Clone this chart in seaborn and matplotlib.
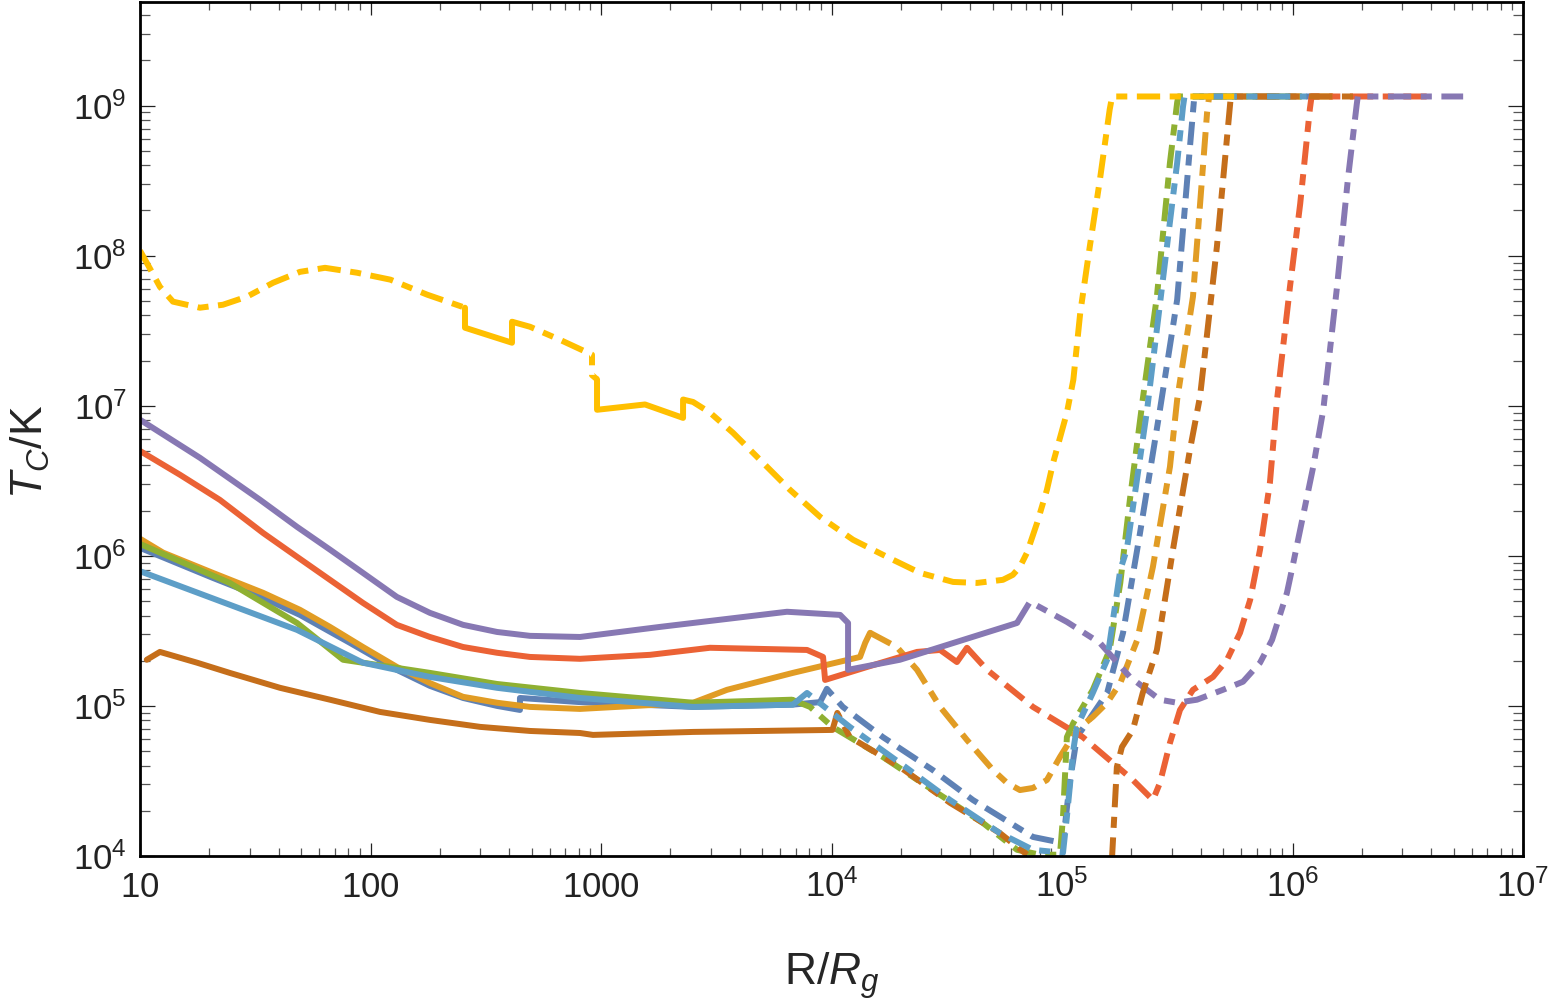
import numpy as np
import pandas as pd
import matplotlib
matplotlib.use("Agg")
import matplotlib.pyplot as plt
from matplotlib.ticker import LogLocator, NullFormatter
import seaborn as sns

# model colours (Mathematica default palette)
models = ["blue", "orange", "green", "red", "purple", "brown", "lightblue", "yellow"]
colors = ["#5E81B5", "#E19C24", "#8FB032", "#EB6235", "#8778B3", "#C56E1A", "#5D9EC7", "#FFBF00"]

# ---- data: R/Rg and T_C [K] ----
blue_solid_r = [10, 20.7, 34.2, 49.4, 81.5, 130, 181, 252, 354, 445, 445, 811, 2510, 6800, 8920]
blue_solid_t = [1.13e6, 7.13e5, 5.25e5, 4.04e5, 2.63e5, 1.74e5, 1.36e5, 1.13e5, 1.0e5, 9.4e4,
                1.13e5, 1.06e5, 9.85e4, 1.02e5, 1.06e5]
blue_dd_r = [8920, 9550, 1.12e4, 1.67e4, 2.75e4, 4.11e4, 7.48e4, 1.01e5, 1.08e5, 1.16e5, 1.28e5,
             1.57e5, 1.84e5, 2.18e5, 2.66e5, 3.16e5, 3.59e5, 3.75e5, 1.3e6]
blue_dd_t = [1.06e5, 1.3e5, 9.85e4, 6.2e4, 3.74e4, 2.36e4, 1.34e4, 1.22e4, 3.07e4, 6.2e4, 7.7e4,
             1.22e5, 3.07e5, 1.42e6, 9.4e6, 5.1e7, 5.3e8, 1.15e9, 1.15e9]

orange_solid_r = [10, 12.6, 20.7, 34.2, 49.4, 66.7, 92.7, 130, 181, 252, 354, 492, 811, 2510, 3520,
                  6800, 1.33e4, 1.4e4, 1.47e4]
orange_solid_t = [1.3e6, 1.05e6, 7.7e5, 5.67e5, 4.37e5, 3.36e5, 2.47e5, 1.82e5, 1.42e5, 1.15e5,
                  1.05e5, 9.85e4, 9.55e4, 1.05e5, 1.28e5, 1.66e5, 2.12e5, 2.63e5, 3.07e5]
orange_dd_r = [1.47e4, 1.92e4, 2.35e4, 2.96e4, 3.87e4, 5.02e4, 5.77e4, 6.57e4, 7.48e4, 8.6e4, 9.8e4,
               1.16e5, 1.36e5, 1.57e5, 1.79e5, 2.12e5, 2.48e5, 2.94e5, 3.16e5, 3.7e5, 4.26e5,
               4.35e5, 1.5e6]
orange_dd_t = [3.07e5, 2.47e5, 1.74e5, 9.85e4, 5.93e4, 3.74e4, 3.07e4, 2.75e4, 2.84e4, 3.21e4,
               4.57e4, 6.92e4, 8.45e4, 1.05e5, 1.42e5, 2.75e5, 8.45e5, 3.92e6, 1.1e7, 5.33e7,
               8.98e8, 1.15e9, 1.15e9]

green_solid_r = [10, 24.5, 48, 76, 92.7, 181, 354, 811, 2510, 6740]
green_solid_t = [1.2e6, 6.6e5, 3.57e5, 2.03e5, 1.94e5, 1.66e5, 1.4e5, 1.22e5, 1.05e5, 1.1e5]
green_dd_r = [6740, 8070, 1.01e4, 1.67e4, 2.75e4, 4.54e4, 6.38e4, 8.03e4, 9.8e4, 1.01e5, 1.05e5,
              1.12e5, 1.36e5, 1.61e5, 1.79e5, 1.97e5, 2.24e5, 2.58e5, 2.94e5, 3.16e5, 3.2e5, 1.1e6]
green_dd_t = [1.1e5, 9.85e4, 7.25e4, 4.57e4, 2.75e4, 1.66e4, 1.1e4, 1.02e4, 1.02e4, 1.82e4, 6.2e4,
              7.7e4, 1.28e5, 2.36e5, 6.6e5, 2.36e6, 1.1e7, 5.33e7, 4.17e8, 1.05e9, 1.15e9, 1.15e9]

red_solid_r = [10, 14.9, 22.2, 34.2, 48, 66.7, 92.7, 130, 181, 252, 354, 492, 811, 1633, 2970,
               7830, 9190, 9380, 1.43e4, 2.35e4, 2.96e4, 3.5e4, 3.87e4]
red_solid_t = [5.0e6, 3.47e6, 2.36e6, 1.42e6, 9.85e5, 6.92e5, 4.86e5, 3.47e5, 2.88e5, 2.47e5,
               2.26e5, 2.12e5, 2.06e5, 2.19e5, 2.44e5, 2.36e5, 2.12e5, 1.49e5, 1.82e5, 2.29e5,
               2.36e5, 1.96e5, 2.44e5]
red_dd_r = [3.87e4, 4.73e4, 7.48e4, 1.23e5, 2.03e5, 2.48e5, 2.66e5, 2.94e5, 3.25e5, 3.7e5, 4.52e5,
            5.2e5, 5.92e5, 6.55e5, 7.23e5, 7.98e5, 8.57e5, 9.75e5, 1.08e6, 1.19e6, 1.21e6, 4.1e6]
red_dd_t = [2.44e5, 1.74e5, 9.85e4, 6.2e4, 3.21e4, 2.36e4, 3.07e4, 5.67e4, 9.4e4, 1.28e5, 1.56e5,
            2.03e5, 3.07e5, 5.09e5, 1.1e6, 3.07e6, 1.1e7, 6.2e7, 2.22e8, 9.55e8, 1.15e9, 1.15e9]

purple_solid_r = [10, 18.2, 33.2, 48, 66.7, 92.7, 130, 181, 252, 354, 492, 811, 1800, 6410, 1.09e4,
                  1.18e4, 1.18e4, 1.98e4, 6.38e4]
purple_solid_t = [8.07e6, 4.5e6, 2.36e6, 1.56e6, 1.1e6, 7.7e5, 5.33e5, 4.17e5, 3.47e5, 3.11e5,
                  2.93e5, 2.88e5, 3.36e5, 4.24e5, 4.04e5, 3.57e5, 1.74e5, 2.03e5, 3.57e5]
purple_dd_r = [6.38e4, 7.26e4, 1.05e5, 1.46e5, 1.97e5, 2.66e5, 3.16e5, 3.85e5, 4.99e5, 6.1e5,
               7.23e5, 8.15e5, 9.46e5, 1.0e6, 1.23e6, 1.36e6, 1.56e6, 1.74e6, 1.9e6, 1.92e6, 5.5e6]
purple_dd_t = [3.57e5, 4.94e5, 3.63e5, 2.63e5, 1.56e5, 1.1e5, 1.05e5, 1.1e5, 1.28e5, 1.45e5,
               1.94e5, 2.75e5, 5.67e5, 8.45e5, 3.92e6, 9.4e6, 6.2e7, 3.26e8, 1.02e9, 1.15e9, 1.15e9]

brown_solid_r = [10.7, 12.2, 17.7, 24.5, 40.5, 66.7, 110, 181, 299, 492, 811, 923, 2510, 1.01e4]
brown_solid_t = [2.03e5, 2.29e5, 1.94e5, 1.66e5, 1.32e5, 1.1e5, 9.12e4, 8.07e4, 7.25e4, 6.81e4,
                 6.6e4, 6.41e4, 6.71e4, 6.92e4]
brown_dd_r = [1.01e4, 1.06e4, 1.2e4, 1.98e4, 3.27e4, 5.38e4, 7.26e4, 1.0e5, 1.6e5, 1.65e5, 1.73e5,
              1.82e5, 2.03e5, 2.24e5, 2.58e5, 3.03e5, 3.59e5, 3.97e5, 4.7e5, 5.35e5, 5.4e5, 1.85e6]
brown_dd_t = [6.92e4, 8.98e4, 6.2e4, 3.92e4, 2.26e4, 1.42e4, 9.85e3, 6.5e3, 6.5e3, 1.0e4, 3.92e4,
              5.33e4, 6.92e4, 1.22e5, 2.36e5, 1.1e6, 5.09e6, 1.15e7, 1.15e8, 9.85e8, 1.15e9, 1.15e9]

lblue_solid_r = [10, 48, 92.7, 181, 354, 811, 2510, 6800]
lblue_solid_t = [7.9e5, 3.21e5, 1.94e5, 1.56e5, 1.32e5, 1.13e5, 9.85e4, 1.02e5]
lblue_dd_r = [6800, 7830, 1.2e4, 1.98e4, 3.27e4, 5.38e4, 7.48e4, 1.01e5, 1.05e5, 1.12e5, 1.16e5,
              1.36e5, 1.57e5, 1.79e5, 1.91e5, 2.34e5, 2.74e5, 3.16e5, 3.35e5, 3.4e5, 1.15e6]
lblue_dd_t = [1.02e5, 1.22e5, 7.25e4, 4.17e4, 2.36e4, 1.42e4, 1.1e4, 1.05e4, 1.82e4, 5.09e4, 7.25e4,
              1.22e5, 2.03e5, 8.07e5, 1.1e6, 9.4e6, 6.92e7, 4.17e8, 9.85e8, 1.15e9, 1.15e9]

yellow_dd1_r = [10, 11.0, 12.2, 13.9, 18.2, 22.9, 29.1, 37.8, 49.4, 63.5, 87.3, 122, 176, 257]
yellow_dd1_t = [1.08e8, 8.3e7, 6.2e7, 4.94e7, 4.5e7, 4.71e7, 5.33e7, 6.6e7, 7.8e7, 8.3e7, 7.7e7,
                6.92e7, 5.5e7, 4.5e7]
yellow_solid1_r = [257, 257, 411, 411]
yellow_solid1_t = [4.5e7, 3.31e7, 2.63e7, 3.63e7]
yellow_dd2_r = [411, 492, 664, 914, 914, 961]
yellow_dd2_t = [3.63e7, 3.36e7, 2.75e7, 2.19e7, 1.6e7, 1.5e7]
yellow_solid2_r = [961, 961, 1552, 2270, 2270]
yellow_solid2_t = [1.5e7, 9.4e6, 1.02e7, 8.3e6, 1.1e7]
yellow_dd3_r = [2270, 2508, 2970, 3740, 5250, 6610, 8920, 1.24e4, 1.74e4, 2.42e4, 3.37e4, 4.28e4,
                5.54e4, 6.12e4, 6.57e4, 7.05e4, 7.8e4, 8.6e4, 9.15e4, 1.05e5, 1.12e5, 1.2e5, 1.32e5,
                1.46e5, 1.61e5, 1.65e5, 6.0e5]
yellow_dd3_t = [1.1e7, 1.06e7, 9.0e6, 6.6e6, 3.92e6, 2.75e6, 1.82e6, 1.28e6, 9.85e5, 7.7e5, 6.7e5,
                6.6e5, 6.92e5, 7.47e5, 8.45e5, 1.05e6, 1.66e6, 2.75e6, 4.17e6, 8.98e6, 1.49e7,
                4.17e7, 1.15e8, 3.2e8, 9.4e8, 1.15e9, 1.15e9]

x_ticks = [10, 100, 1000, 1e4, 1e5, 1e6, 1e7]
x_ticklabels = ["10", "100", "1000", "10^{4}", "10^{5}", "10^{6}", "10^{7}"]
y_ticks = [1e4, 1e5, 1e6, 1e7, 1e8, 1e9]
y_ticklabels = ["10^{4}", "10^{5}", "10^{6}", "10^{7}", "10^{8}", "10^{9}"]

# (model, style, segment, R, T)
segments = [
    ("blue", "solid", "s1", blue_solid_r, blue_solid_t),
    ("blue", "dd", "d1", blue_dd_r, blue_dd_t),
    ("orange", "solid", "s1", orange_solid_r, orange_solid_t),
    ("orange", "dd", "d1", orange_dd_r, orange_dd_t),
    ("green", "solid", "s1", green_solid_r, green_solid_t),
    ("green", "dd", "d1", green_dd_r, green_dd_t),
    ("red", "solid", "s1", red_solid_r, red_solid_t),
    ("red", "dd", "d1", red_dd_r, red_dd_t),
    ("purple", "solid", "s1", purple_solid_r, purple_solid_t),
    ("purple", "dd", "d1", purple_dd_r, purple_dd_t),
    ("brown", "solid", "s1", brown_solid_r, brown_solid_t),
    ("brown", "dd", "d1", brown_dd_r, brown_dd_t),
    ("lightblue", "solid", "s1", lblue_solid_r, lblue_solid_t),
    ("lightblue", "dd", "d1", lblue_dd_r, lblue_dd_t),
    ("yellow", "dd", "d1", yellow_dd1_r, yellow_dd1_t),
    ("yellow", "solid", "s1", yellow_solid1_r, yellow_solid1_t),
    ("yellow", "dd", "d2", yellow_dd2_r, yellow_dd2_t),
    ("yellow", "solid", "s2", yellow_solid2_r, yellow_solid2_t),
    ("yellow", "dd", "d3", yellow_dd3_r, yellow_dd3_t),
]

frames = []
for model, style, seg, r, t in segments:
    frames.append(pd.DataFrame({"R": r, "T": t, "model": model, "style": style,
                                "seg": model + seg}))
df = pd.concat(frames, ignore_index=True)

sns.set_theme(style="ticks")
plt.rcParams["font.family"] = ["Liberation Sans", "DejaVu Sans"]
plt.rcParams["mathtext.fontset"] = "custom"
plt.rcParams["mathtext.rm"] = "Liberation Sans"
plt.rcParams["mathtext.it"] = "Liberation Sans:italic"
plt.rcParams["mathtext.bf"] = "Liberation Sans:bold"

fig = plt.figure(figsize=(15.5, 10.05), dpi=100)
ax = fig.add_axes([140 / 1550, 1 - 856 / 1005, 1383 / 1550, 854 / 1005])
ax.set_xscale("log")
ax.set_yscale("log")

sns.lineplot(data=df, x="R", y="T", hue="model", style="style", units="seg",
             estimator=None, sort=False, hue_order=models,
             palette=dict(zip(models, colors)), style_order=["solid", "dd"],
             dashes={"solid": "", "dd": (3.9, 1.6, 1.85, 1.6)},
             lw=4.3, legend=False, ax=ax)

ax.set_xlim(10, 1e7)
ax.set_ylim(1e4, 4.9e9)

ax.set_xticks(x_ticks, [r"$\mathdefault{%s}$" % s for s in x_ticklabels], va="baseline")
ax.set_yticks(y_ticks, [r"$\mathdefault{%s}$" % s for s in y_ticklabels], va="center_baseline")
ax.xaxis.set_minor_locator(LogLocator(base=10, subs=np.arange(2, 10), numticks=20))
ax.yaxis.set_minor_locator(LogLocator(base=10, subs=np.arange(2, 10), numticks=20))
ax.xaxis.set_minor_formatter(NullFormatter())
ax.yaxis.set_minor_formatter(NullFormatter())

ax.tick_params(axis="both", which="both", direction="in", top=True, right=True,
               labelsize=25, colors="#222222", width=0.9)
ax.tick_params(axis="x", which="major", length=9.5, pad=29.5)
ax.tick_params(axis="x", which="minor", length=5.8, color="#555555")
ax.tick_params(axis="y", which="major", length=10.8, pad=9.5)
ax.tick_params(axis="y", which="minor", length=7.5, color="#555555")
for sp in ax.spines.values():
    sp.set_linewidth(2.0)
    sp.set_color("black")

ax.set_xlabel(r"R/$R_g$", fontsize=32)
ax.set_ylabel(r"$T_C$/K", fontsize=32)
ax.xaxis.set_label_coords(0.5, -0.110)
ax.yaxis.set_label_coords(-0.0636, 0.473)

fig.savefig("out.png", dpi=100)
